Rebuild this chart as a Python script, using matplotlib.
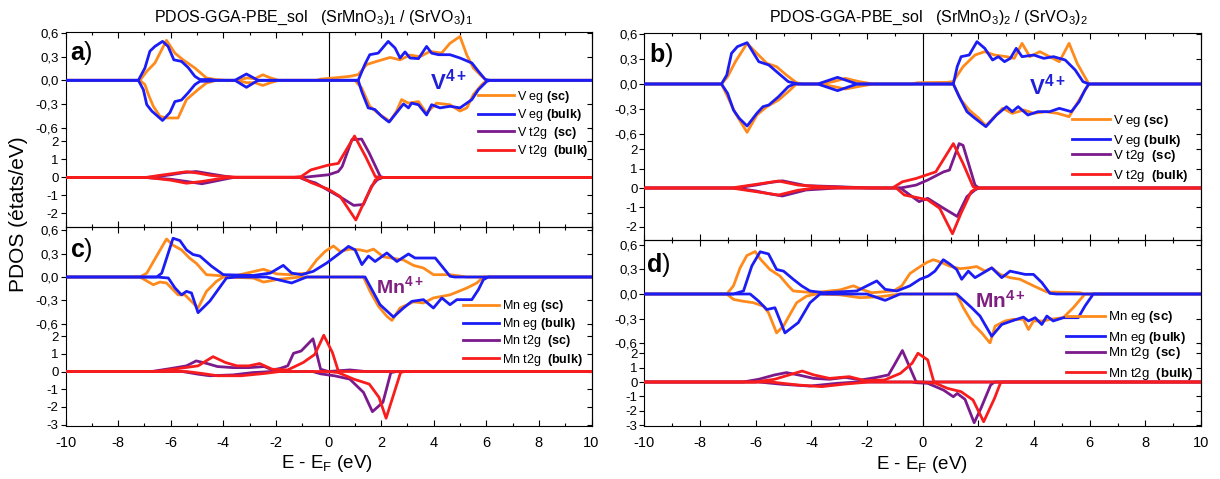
import matplotlib
matplotlib.use('Agg')
import numpy as np
import matplotlib.pyplot as plt

plt.rcParams['font.family'] = 'Liberation Sans'
plt.rcParams['mathtext.fontset'] = 'custom'
plt.rcParams['mathtext.rm'] = 'Liberation Sans'
plt.rcParams['mathtext.it'] = 'Liberation Sans:italic'
plt.rcParams['mathtext.bf'] = 'Liberation Sans:bold'

# ---- PDOS data (E - E_F in eV, states/eV); up = spin up, dn = spin down ----
# (SrMnO3)1/(SrVO3)1 : V eg
a_eg_sc_up_x = [-7.17, -6.91, -6.60, -6.16, -5.84, -5.53, -5.08, -4.64, -4.26, -3.9, -3.5, -3.1, -2.8, -2.5, -2.2, -1.9,
                -0.45, -0.3, 0.2, 0.8, 1.13, 1.45, 1.83, 2.34, 2.72, 3.10, 3.48, 3.86, 4.30, 4.62, 5.0, 5.26, 5.51, 5.83, 6.02]
a_eg_sc_up_y = [0, 0.114, 0.22, 0.507, 0.345, 0.26, 0.156, 0.03, 0.008, 0, 0, 0.03, 0.02, 0.07, 0.03, 0,
                0, 0.015, 0.03, 0.05, 0.072, 0.2, 0.24, 0.29, 0.26, 0.32, 0.30, 0.367, 0.345, 0.47, 0.556, 0.32, 0.156, 0.05, 0]
a_eg_sc_dn_x = [-7.17, -6.98, -6.85, -6.66, -6.41, -6.16, -5.72, -5.40, -4.96, -4.64, -4.26, -3.5, -3.1, -2.8, -2.5, -2.2, -1.9,
                1.0, 1.26, 1.57, 1.95, 2.34, 2.59, 2.78, 3.04, 3.42, 3.73, 4.11, 4.62, 5.0, 5.26, 5.51, 5.83, 6.02]
a_eg_sc_dn_y = [0, -0.055, -0.18, -0.33, -0.457, -0.478, -0.478, -0.245, -0.118, -0.034, 0, 0, -0.03, -0.03, -0.065, -0.03, 0,
                0, -0.097, -0.33, -0.435, -0.52, -0.39, -0.245, -0.29, -0.27, -0.415, -0.29, -0.31, -0.39, -0.35, -0.18, -0.055, 0]
a_eg_bulk_up_x = [-7.23, -6.98, -6.79, -6.60, -6.31, -6.10, -5.88, -5.59, -5.34, -5.08, -4.89, -4.5, -4.3, -3.56, -3.12, -2.68,
                  1.13, 1.38, 1.57, 1.89, 2.27, 2.53, 2.72, 2.91, 3.10, 3.42, 3.73, 3.92, 4.18, 4.62, 5.0, 5.45, 5.70, 5.96, 6.15]
a_eg_bulk_up_y = [0, 0.156, 0.37, 0.43, 0.494, 0.43, 0.26, 0.24, 0.163, 0.05, 0.01, 0.01, 0, 0, 0.08, 0,
                  0, 0.2, 0.325, 0.345, 0.494, 0.41, 0.283, 0.36, 0.283, 0.275, 0.43, 0.345, 0.325, 0.325, 0.283, 0.22, 0.114, 0.01, 0]
a_eg_bulk_dn_x = [-7.23, -7.04, -6.91, -6.72, -6.31, -6.03, -5.84, -5.59, -5.34, -5.08, -4.89, -4.5, -4.3, -3.56, -3.12, -2.68,
                  1.13, 1.26, 1.51, 1.76, 2.02, 2.30, 2.59, 2.85, 3.04, 3.16, 3.42, 3.73, 3.92, 4.24, 4.62, 5.0, 5.45, 5.70, 6.02, 6.15]
a_eg_bulk_dn_y = [0, -0.119, -0.309, -0.39, -0.51, -0.41, -0.27, -0.25, -0.16, -0.055, -0.013, -0.01, 0, 0, -0.089, 0,
                  0, -0.14, -0.35, -0.37, -0.457, -0.53, -0.41, -0.30, -0.35, -0.29, -0.31, -0.44, -0.31, -0.35, -0.33, -0.35, -0.245, -0.118, -0.013, 0]

# (SrMnO3)1/(SrVO3)1 : V t2g
a_t2g_sc_up_x = [-7.0, -6.5, -6.0, -5.5, -5.03, -4.5, -4.0, -3.6, -0.96, -0.67, 0, 0.37, 0.52, 0.89, 1.26, 1.55, 1.97, 2.1]
a_t2g_sc_up_y = [0, 0.05, 0.15, 0.27, 0.33, 0.2, 0.08, 0, 0, 0.05, 0.15, 0.33, 0.61, 2.1, 2.13, 1.35, 0.05, 0]
a_t2g_sc_dn_x = [-7.0, -6.0, -5.5, -4.81, -4.3, -3.8, -3.6, -1.1, -0.89, -0.5, 0, 0.52, 0.96, 1.33, 1.63, 1.85, 2.07]
a_t2g_sc_dn_y = [0, -0.1, -0.2, -0.35, -0.2, -0.05, 0, 0, -0.13, -0.3, -0.72, -1.15, -1.55, -1.5, -0.5, -0.13, 0]
a_t2g_bulk_up_x = [-6.9, -6.5, -6.0, -5.40, -5.0, -4.5, -4.0, -3.5, -3.0, -1.3, -1.04, -0.67, 0, 0.37, 0.99, 1.41, 1.78, 2.0]
a_t2g_bulk_up_y = [0, 0.1, 0.2, 0.32, 0.25, 0.12, 0.05, 0.02, 0.02, 0.02, 0.05, 0.42, 0.69, 0.78, 2.3, 1.16, 0.05, 0]
a_t2g_bulk_dn_x = [-6.9, -6.0, -5.40, -4.8, -4.2, -3.77, -1.04, -0.67, 0, 0.44, 1.04, 1.41, 1.78, 2.0]
a_t2g_bulk_dn_y = [0, -0.15, -0.32, -0.22, -0.08, 0, 0, -0.28, -0.66, -1.05, -2.36, -1.2, -0.13, 0]

# (SrMnO3)1/(SrVO3)1 : Mn eg
c_eg_sc_up_x = [-7.17, -6.91, -6.66, -6.16, -5.91, -5.59, -5.27, -5.02, -4.64, -4.13, -3.62, -3.11, -2.47, -1.97, -1.46, -0.83,
                -0.45, -0.13, 0.19, 0.44, 0.82, 1.20, 1.46, 1.71, 2.09, 2.47, 2.85, 3.23, 3.61, 3.99, 4.62, 5.26]
c_eg_sc_up_y = [0, 0.05, 0.197, 0.49, 0.41, 0.35, 0.24, 0.175, 0.03, 0.017, 0.01, 0.05, 0.1, 0.04, 0.03, 0.05,
                0.22, 0.33, 0.40, 0.33, 0.36, 0.35, 0.33, 0.36, 0.26, 0.24, 0.22, 0.15, 0.116, 0.03, 0.03, 0]
c_eg_sc_dn_x = [-7.17, -6.66, -6.41, -6.16, -5.72, -5.46, -4.96, -4.64, -4.26, -4.0, -2.86, -2.47, -1.97, -1.08,
                1.33, 1.58, 1.90, 2.22, 2.41, 2.72, 3.23, 3.61, 3.99, 4.62, 5.26, 5.64, 5.89]
c_eg_sc_dn_y = [0, -0.1, -0.065, -0.077, -0.23, -0.23, -0.4, -0.185, -0.056, 0, -0.013, -0.065, -0.034, 0,
                0, -0.185, -0.378, -0.507, -0.56, -0.40, -0.32, -0.335, -0.27, -0.23, -0.142, -0.077, 0]
c_eg_bulk_up_x = [-6.53, -6.34, -5.91, -5.65, -5.40, -5.15, -4.89, -4.45, -4.0, -2.86, -2.22, -1.72, -1.40, -1.02, -0.58, -0.07,
                  0.44, 0.76, 1.01, 1.27, 1.52, 1.77, 2.22, 2.60, 3.04, 3.29, 3.55, 4.06, 4.31, 4.62, 4.8]
c_eg_bulk_up_y = [0, 0.05, 0.5, 0.47, 0.35, 0.29, 0.27, 0.14, 0.03, 0.02, 0.05, 0.15, 0.05, 0.03, 0.073, 0.18,
                  0.31, 0.395, 0.35, 0.16, 0.27, 0.2, 0.31, 0.2, 0.297, 0.245, 0.245, 0.245, 0.14, 0.01, 0]
c_eg_bulk_dn_x = [-6.53, -6.09, -5.84, -5.59, -5.40, -5.21, -4.96, -4.51, -3.88, -3.5, -2.35, -1.40, -0.83,
                  1.39, 1.96, 2.47, 2.85, 3.17, 3.61, 3.99, 4.31, 4.62, 4.88, 5.45, 5.70, 5.89, 6.08]
c_eg_bulk_dn_y = [0, -0.013, -0.14, -0.23, -0.185, -0.206, -0.46, -0.31, -0.013, 0, 0, -0.077, 0,
                  0, -0.357, -0.516, -0.40, -0.314, -0.292, -0.40, -0.27, -0.357, -0.292, -0.292, -0.163, -0.034, 0]

# (SrMnO3)1/(SrVO3)1 : Mn t2g
c_t2g_sc_up_x = [-6.73, -5.99, -5.40, -5.03, -4.66, -4.22, -3.62, -3.03, -2.44, -2.14, -1.85, -1.55, -1.33, -1.04, -0.59, -0.30, 0, 0.81, 1.41]
c_t2g_sc_up_y = [0, 0.17, 0.32, 0.6, 0.47, 0.28, 0.22, 0.22, 0.28, 0.09, 0.17, 0.32, 1.03, 1.16, 1.85, 0.13, 0, 0.09, 0]
c_t2g_sc_dn_x = [-5.55, -4.96, -4.51, -3.62, -2.88, -2.14, -0.6, -0.30, 0.22, 0.81, 1.33, 1.67, 2.07, 2.37, 2.59]
c_t2g_sc_dn_y = [0, -0.15, -0.24, -0.19, -0.06, 0, 0, -0.13, -0.24, -0.43, -1.18, -2.27, -1.74, -0.06, 0]
c_t2g_bulk_up_x = [-6.58, -5.70, -4.96, -4.39, -3.92, -3.48, -3.03, -2.62, -2.14, -1.55, -0.96, -0.52, -0.18, 0.15, 0.37, 0.52]
c_t2g_bulk_up_y = [0, 0.17, 0.32, 0.84, 0.51, 0.32, 0.32, 0.45, 0.13, 0.09, 0.51, 0.97, 2.05, 1.07, 0.04, 0]
c_t2g_bulk_dn_x = [-5.40, -4.81, -4.22, -3.33, -2.44, -1.85, 0, 0.37, 0.96, 1.55, 1.92, 2.19, 2.74, 2.88]
c_t2g_bulk_dn_y = [0, -0.11, -0.24, -0.24, -0.11, 0, 0, -0.06, -0.43, -0.71, -1.46, -2.64, -0.06, 0]

# (SrMnO3)2/(SrVO3)2 : V eg
b_eg_sc_up_x = [-7.23, -7.01, -6.73, -6.31, -5.96, -5.60, -5.25, -4.90, -4.54, -4.3, -3.70, -3.2, -2.78, -2.3, -1.79,
                -0.38, -0.2, 0.89, 1.10, 1.45, 1.88, 2.23, 2.58, 3.01, 3.29, 3.57, 3.85, 4.21, 4.56, 4.91, 5.26, 5.55, 5.97]
b_eg_sc_up_y = [0, 0.088, 0.268, 0.488, 0.368, 0.248, 0.208, 0.108, 0.016, 0, 0, 0.03, 0.068, 0.03, 0,
                0, 0.015, 0.02, 0.03, 0.208, 0.348, 0.388, 0.348, 0.328, 0.308, 0.488, 0.328, 0.388, 0.328, 0.268, 0.488, 0.248, 0]
b_eg_sc_dn_x = [-7.23, -7.01, -6.73, -6.31, -5.96, -5.60, -5.18, -4.83, -4.54, -3.70, -3.2, -2.78, -2.3, -1.79,
                1.10, 1.38, 1.67, 2.02, 2.27, 2.58, 2.87, 3.22, 3.64, 3.99, 4.42, 4.84, 5.26, 5.62, 5.97]
b_eg_sc_dn_y = [0, -0.152, -0.352, -0.58, -0.372, -0.272, -0.192, -0.092, 0, 0, -0.03, -0.06, -0.03, 0,
                0, -0.192, -0.312, -0.412, -0.5, -0.392, -0.292, -0.352, -0.312, -0.352, -0.332, -0.352, -0.392, -0.192, 0]
b_eg_bulk_up_x = [-7.23, -7.04, -6.87, -6.66, -6.31, -5.89, -5.53, -5.18, -4.83, -4.47, -3.77, -3.06, -2.36,
                  1.10, 1.24, 1.38, 1.67, 1.95, 2.23, 2.51, 2.72, 2.94, 3.15, 3.36, 3.57, 3.99, 4.35, 4.70, 5.12, 5.48, 5.76, 5.97]
b_eg_bulk_up_y = [0, 0.108, 0.368, 0.448, 0.496, 0.268, 0.228, 0.128, 0.028, 0, 0, 0.08, 0,
                  0, 0.208, 0.328, 0.348, 0.508, 0.428, 0.288, 0.328, 0.268, 0.308, 0.428, 0.328, 0.348, 0.308, 0.328, 0.288, 0.168, 0.028, 0]
b_eg_bulk_dn_x = [-7.23, -7.01, -6.80, -6.59, -6.31, -5.96, -5.74, -5.53, -5.18, -4.83, -4.62, -3.77, -3.06, -2.36,
                  1.10, 1.31, 1.59, 1.88, 2.27, 2.65, 3.01, 3.22, 3.43, 3.78, 4.14, 4.56, 4.91, 5.34, 5.62, 5.83, 5.97]
b_eg_bulk_dn_y = [0, -0.112, -0.312, -0.412, -0.504, -0.352, -0.272, -0.252, -0.152, -0.032, 0, 0, -0.08, 0,
                  0, -0.152, -0.332, -0.412, -0.512, -0.372, -0.272, -0.332, -0.272, -0.372, -0.332, -0.332, -0.292, -0.332, -0.212, -0.072, 0]

# (SrMnO3)2/(SrVO3)2 : V t2g
b_t2g_sc_up_x = [-6.73, -6.0, -5.5, -5.04, -4.19, -3.06, -1.93, -0.80, -0.24, 0.18, 0.75, 0.96, 1.31, 1.45, 1.88, 2.02]
b_t2g_sc_up_y = [0, 0.15, 0.28, 0.37, 0.12, 0.07, 0, 0, 0.15, 0.41, 0.83, 0.92, 2.28, 2.19, 0.15, 0]
b_t2g_sc_dn_x = [-6.73, -6.0, -5.5, -5.04, -4.19, -3.06, -0.80, -0.38, -0.13, 0.18, 0.75, 1.24, 1.59, 1.88, 2.02]
b_t2g_sc_dn_y = [0, -0.15, -0.3, -0.41, -0.1, 0, 0, -0.44, -0.70, -0.53, -1.04, -1.46, -0.44, -0.1, 0]
b_t2g_bulk_up_x = [-6.87, -6.17, -5.18, -4.47, -3.63, -2.5, -1.09, -0.73, -0.24, 0.47, 1.10, 1.45, 1.81, 1.95]
b_t2g_bulk_up_y = [0, 0.15, 0.36, 0.15, 0.07, 0.02, 0, 0.32, 0.49, 0.83, 2.28, 1.26, 0.07, 0]
b_t2g_bulk_dn_x = [-6.87, -6.17, -5.18, -4.5, -3.9, -0.95, -0.66, -0.24, 0.18, 0.61, 1.07, 1.38, 1.74, 1.95]
b_t2g_bulk_dn_y = [0, -0.15, -0.36, -0.12, 0, 0, -0.36, -0.48, -0.61, -1.04, -2.35, -1.29, -0.19, 0]

# (SrMnO3)2/(SrVO3)2 : Mn eg
d_eg_sc_up_x = [-7.04, -6.80, -6.56, -6.32, -6.02, -5.84, -5.49, -5.13, -4.83, -4.65, -3.93, -2.97, -2.49, -2.19, -1.83, -1.05,
                -0.75, -0.46, -0.16, 0.14, 0.38, 0.68, 0.98, 1.34, 1.64, 1.94, 2.24, 2.48, 2.78, 3.14, 3.50, 3.98, 4.46, 5.65, 5.8]
d_eg_sc_up_y = [0, 0.1, 0.32, 0.47, 0.52, 0.43, 0.30, 0.22, 0.1, 0.037, 0.016, 0.05, 0.1, 0.057, 0.016, 0.037,
                0.1, 0.25, 0.32, 0.385, 0.42, 0.385, 0.34, 0.31, 0.32, 0.336, 0.28, 0.32, 0.24, 0.2, 0.18, 0.1, 0.025, 0.016, 0]
d_eg_sc_dn_x = [-7.04, -6.80, -6.50, -6.08, -5.72, -5.54, -5.25, -5.0, -4.77, -4.53, -4.17, -3.81, -2.97, -2.25, -1.53, -0.81,
                1.22, 1.46, 1.82, 2.12, 2.42, 2.60, 2.96, 3.26, 3.62, 3.80, 3.98, 4.34, 4.57, 5.05, 5.41, 5.83]
d_eg_sc_dn_y = [0, -0.066, -0.086, -0.107, -0.15, -0.23, -0.476, -0.39, -0.25, -0.107, -0.025, 0, -0.01, -0.045, -0.033, 0,
                0, -0.168, -0.373, -0.476, -0.6, -0.394, -0.33, -0.31, -0.31, -0.435, -0.33, -0.33, -0.31, -0.29, -0.168, 0]
d_eg_bulk_up_x = [-6.80, -6.44, -6.14, -5.84, -5.54, -5.25, -5.0, -4.65, -4.35, -4.05, -3.57, -2.37, -1.65, -1.35, -0.93, -0.46,
                  -0.10, 0.20, 0.44, 0.74, 0.98, 1.22, 1.40, 1.64, 1.88, 2.48, 2.84, 3.14, 3.68, 3.98, 4.28, 4.57, 4.81]
d_eg_bulk_up_y = [0, 0.037, 0.344, 0.517, 0.49, 0.30, 0.28, 0.18, 0.1, 0.037, 0.016, 0.037, 0.16, 0.057, 0.037, 0.1,
                  0.18, 0.22, 0.28, 0.42, 0.365, 0.30, 0.18, 0.28, 0.2, 0.32, 0.2, 0.28, 0.24, 0.24, 0.14, 0.008, 0]
d_eg_bulk_dn_x = [-6.80, -6.20, -5.90, -5.60, -5.31, -4.95, -4.47, -4.05, -3.69, -2.01, -1.35, -0.81,
                  1.22, 1.76, 2.06, 2.48, 2.84, 3.20, 3.62, 3.80, 4.04, 4.28, 4.46, 4.69, 5.05, 5.59, 5.83, 6.13]
d_eg_bulk_dn_y = [0, 0, -0.086, -0.19, -0.168, -0.476, -0.35, -0.107, 0, 0, -0.078, 0,
                  0, -0.168, -0.27, -0.517, -0.373, -0.33, -0.283, -0.33, -0.29, -0.373, -0.27, -0.33, -0.29, -0.29, -0.148, 0]

# (SrMnO3)2/(SrVO3)2 : Mn t2g
d_t2g_sc_up_x = [-6.45, -5.89, -5.32, -4.90, -4.47, -3.91, -3.35, -2.78, -2.22, -1.65, -1.23, -1.02, -0.73, -0.45, -0.24, -0.1]
d_t2g_sc_up_y = [0, 0.19, 0.49, 0.65, 0.49, 0.25, 0.19, 0.32, 0.14, 0.32, 0.49, 1.18, 2.18, 0.95, 0.02, 0]
d_t2g_sc_dn_x = [-5.89, -5.04, -4.05, -3.06, -2.36, -0.4, -0.24, 0.18, 0.75, 1.10, 1.24, 1.52, 1.85, 2.09, 2.44, 2.58]
d_t2g_sc_dn_y = [0, -0.16, -0.28, -0.09, 0, 0, -0.05, -0.09, -0.56, -1.02, -0.79, -1.2, -2.82, -1.83, -0.21, 0]
d_t2g_bulk_up_x = [-6.03, -5.32, -4.33, -3.91, -3.35, -2.64, -2.07, -1.37, -0.80, -0.38, -0.17, 0.18, 0.40, 0.47]
d_t2g_bulk_up_y = [0, 0.19, 0.76, 0.49, 0.25, 0.37, 0.09, 0.14, 0.6, 1.3, 1.99, 1.53, 0.02, 0]
d_t2g_bulk_dn_x = [-5.46, -4.47, -3.63, -2.78, -1.93, 0, 0.47, 0.89, 1.38, 1.81, 2.19, 2.58, 2.79, 2.87]
d_t2g_bulk_dn_y = [0, -0.21, -0.32, -0.14, 0, 0, -0.09, -0.44, -0.67, -1.25, -2.75, -1.13, -0.09, 0]

eg_ticks = [-0.6, -0.3, 0.0, 0.3, 0.6]
t2g_ticks_top = [-2, -1, 0, 1, 2]
t2g_ticks_bot = [-3, -2, -1, 0, 1, 2]
x_ticks = list(range(-10, 11, 2))

col_eg_sc = '#ff8a1c'
col_eg_bulk = '#1c1cf5'
col_t2g_sc = '#7a1a8c'
col_t2g_bulk = '#f81c1c'

W, H = 1220, 479
fig = plt.figure(figsize=(W / 100, H / 100), dpi=100)


def rect(x0, x1, ytop, ybot):
    return [x0 / W, 1 - ybot / H, (x1 - x0) / W, (ybot - ytop) / H]


def padded(x, y):
    # zero DOS outside the listed energies
    return [-10] + list(x) + [10], [0] + list(y) + [0]


def style_axes(ax, ylim, yticks, eg, xlabels):
    ax.set_facecolor('none')
    ax.set_xlim(-10, 10)
    ax.set_ylim(*ylim)
    ax.set_xticks(x_ticks)
    ax.set_xticks(range(-9, 10, 2), minor=True)
    ax.set_yticks(yticks)
    if eg:
        ax.set_yticklabels([('%.1f' % v).replace('.', ',') for v in yticks])
    else:
        ax.set_yticklabels([str(v) for v in yticks])
    ax.set_xticklabels([str(v) for v in x_ticks])
    for s in ax.spines.values():
        s.set_linewidth(0.8)
    ax.spines['bottom'].set_visible(not eg)
    ax.spines['top'].set_visible(eg)
    ax.tick_params(axis='x', which='both', direction='in', top=eg, bottom=not eg,
                   labelbottom=xlabels, labelsize=10.5, pad=7, width=0.8)
    ax.tick_params(axis='x', which='major', length=4.5)
    ax.tick_params(axis='x', which='minor', length=2.5)
    ax.tick_params(axis='y', direction='out', length=3.5, width=0.8, pad=1.5, labelsize=9.5)
    sec = ax.secondary_yaxis('right')
    sec.set_yticks(yticks)
    sec.tick_params(direction='in', length=3.5, width=0.8, labelright=False)
    sec.spines['right'].set_linewidth(0.8)
    ax.axvline(0, color='black', lw=0.8, zorder=1)


def draw_pair(ax, sc_up, sc_dn, bulk_up, bulk_dn, c_sc, c_bulk):
    l1, = ax.plot(*padded(*sc_up), color=c_sc, lw=2.0, zorder=2)
    ax.plot(*padded(*sc_dn), color=c_sc, lw=2.0, zorder=2)
    l2, = ax.plot(*padded(*bulk_up), color=c_bulk, lw=2.0, zorder=3)
    ax.plot(*padded(*bulk_dn), color=c_bulk, lw=2.0, zorder=3)
    return l1, l2


def add_legend(ax, handles, labels, x, y, fs, spacing, hlen):
    ax.legend(handles, labels, loc='center left', bbox_to_anchor=(x / W, 1 - y / H),
              bbox_transform=fig.transFigure, frameon=False, fontsize=fs, borderpad=0,
              borderaxespad=0, handlelength=hlen, handletextpad=0.25, labelspacing=spacing)


left_x = (65.5, 591.5)
left_rows = [32, 129, 227, 325, 426]
right_x = (644.4, 1201)
right_rows = [33, 137, 240, 344, 426]

# ---- left column: (SrMnO3)1/(SrVO3)1 ----
ax_a = fig.add_axes(rect(*left_x, left_rows[0], left_rows[1]))
style_axes(ax_a, (-0.618, 0.613), eg_ticks, True, False)
h = draw_pair(ax_a, (a_eg_sc_up_x, a_eg_sc_up_y), (a_eg_sc_dn_x, a_eg_sc_dn_y),
              (a_eg_bulk_up_x, a_eg_bulk_up_y), (a_eg_bulk_dn_x, a_eg_bulk_dn_y), col_eg_sc, col_eg_bulk)
add_legend(ax_a, h, ['V eg $\\mathbf{(sc)}$', 'V eg $\\mathbf{(bulk)}$'], 478, 106, 9, 0.22, 2.9)

ax_a2 = fig.add_axes(rect(*left_x, left_rows[1], left_rows[2]))
style_axes(ax_a2, (-2.75, 2.69), t2g_ticks_top, False, False)
h = draw_pair(ax_a2, (a_t2g_sc_up_x, a_t2g_sc_up_y), (a_t2g_sc_dn_x, a_t2g_sc_dn_y),
              (a_t2g_bulk_up_x, a_t2g_bulk_up_y), (a_t2g_bulk_dn_x, a_t2g_bulk_dn_y), col_t2g_sc, col_t2g_bulk)
add_legend(ax_a2, h, ['V t2g  $\\mathbf{(sc)}$', 'V t2g  $\\mathbf{(bulk)}$'], 478, 142, 9, 0.22, 2.9)

ax_c = fig.add_axes(rect(*left_x, left_rows[2], left_rows[3]))
style_axes(ax_c, (-0.619, 0.645), eg_ticks, True, False)
h = draw_pair(ax_c, (c_eg_sc_up_x, c_eg_sc_up_y), (c_eg_sc_dn_x, c_eg_sc_dn_y),
              (c_eg_bulk_up_x, c_eg_bulk_up_y), (c_eg_bulk_dn_x, c_eg_bulk_dn_y), col_eg_sc, col_eg_bulk)
add_legend(ax_c, h, ['Mn eg $\\mathbf{(sc)}$', 'Mn eg $\\mathbf{(bulk)}$'], 463, 315, 9, 0.18, 2.9)

ax_c2 = fig.add_axes(rect(*left_x, left_rows[3], left_rows[4]))
style_axes(ax_c2, (-3.08, 2.63), t2g_ticks_bot, False, True)
h = draw_pair(ax_c2, (c_t2g_sc_up_x, c_t2g_sc_up_y), (c_t2g_sc_dn_x, c_t2g_sc_dn_y),
              (c_t2g_bulk_up_x, c_t2g_bulk_up_y), (c_t2g_bulk_dn_x, c_t2g_bulk_dn_y), col_t2g_sc, col_t2g_bulk)
add_legend(ax_c2, h, ['Mn t2g  $\\mathbf{(sc)}$', 'Mn t2g  $\\mathbf{(bulk)}$'], 463, 350.5, 9, 0.2, 2.9)

# ---- right column: (SrMnO3)2/(SrVO3)2 ----
ax_b = fig.add_axes(rect(*right_x, right_rows[0], right_rows[1]))
style_axes(ax_b, (-0.636, 0.612), eg_ticks, True, False)
h = draw_pair(ax_b, (b_eg_sc_up_x, b_eg_sc_up_y), (b_eg_sc_dn_x, b_eg_sc_dn_y),
              (b_eg_bulk_up_x, b_eg_bulk_up_y), (b_eg_bulk_dn_x, b_eg_bulk_dn_y), col_eg_sc, col_eg_bulk)
add_legend(ax_b, h, ['V eg $\\mathbf{(sc)}$', 'V eg $\\mathbf{(bulk)}$'], 1072, 131, 9.5, 0.32, 2.85)

ax_b2 = fig.add_axes(rect(*right_x, right_rows[1], right_rows[2]))
style_axes(ax_b2, (-2.67, 2.62), t2g_ticks_top, False, False)
h = draw_pair(ax_b2, (b_t2g_sc_up_x, b_t2g_sc_up_y), (b_t2g_sc_dn_x, b_t2g_sc_dn_y),
              (b_t2g_bulk_up_x, b_t2g_bulk_up_y), (b_t2g_bulk_dn_x, b_t2g_bulk_dn_y), col_t2g_sc, col_t2g_bulk)
add_legend(ax_b2, h, ['V t2g  $\\mathbf{(sc)}$', 'V t2g  $\\mathbf{(bulk)}$'], 1072, 166, 9.5, 0.32, 2.85)

ax_d = fig.add_axes(rect(*right_x, right_rows[2], right_rows[3]))
style_axes(ax_d, (-0.612, 0.661), eg_ticks, True, False)
h = draw_pair(ax_d, (d_eg_sc_up_x, d_eg_sc_up_y), (d_eg_sc_dn_x, d_eg_sc_dn_y),
              (d_eg_bulk_up_x, d_eg_bulk_up_y), (d_eg_bulk_dn_x, d_eg_bulk_dn_y), col_eg_sc, col_eg_bulk)
add_legend(ax_d, h, ['Mn eg $\\mathbf{(sc)}$', 'Mn eg $\\mathbf{(bulk)}$'], 1066, 327.5, 9.5, 0.32, 2.95)

ax_d2 = fig.add_axes(rect(*right_x, right_rows[3], right_rows[4]))
style_axes(ax_d2, (-3.045, 2.63), t2g_ticks_bot, False, True)
h = draw_pair(ax_d2, (d_t2g_sc_up_x, d_t2g_sc_up_y), (d_t2g_sc_dn_x, d_t2g_sc_dn_y),
              (d_t2g_bulk_up_x, d_t2g_bulk_up_y), (d_t2g_bulk_dn_x, d_t2g_bulk_dn_y), col_t2g_sc, col_t2g_bulk)
add_legend(ax_d2, h, ['Mn t2g  $\\mathbf{(sc)}$', 'Mn t2g  $\\mathbf{(bulk)}$'], 1066, 363.5, 9.5, 0.32, 2.95)

# ---- titles, axis labels and annotations ----
def ftext(x, y, s, **kw):
    fig.text(x / W, 1 - y / H, s, **kw)


ftext(314, 21.5, 'PDOS-GGA-PBE_sol   (SrMnO$_3$)$_1$ / (SrVO$_3$)$_1$', ha='center', va='baseline', fontsize=11.5)
ftext(929, 21.5, 'PDOS-GGA-PBE_sol   (SrMnO$_3$)$_2$ / (SrVO$_3$)$_2$', ha='center', va='baseline', fontsize=11.5)
ftext(19, 214, 'PDOS (états/eV)', rotation=90, ha='center', va='center', fontsize=15)
ftext(327, 468, 'E - E$_\\mathregular{F}$ (eV)', ha='center', va='baseline', fontsize=13.5)
ftext(922, 469, 'E - E$_\\mathregular{F}$ (eV)', ha='center', va='baseline', fontsize=13.5)

for lab, x, y in [('a', 70, 60), ('c', 70, 256.7), ('b', 649, 61.7), ('d', 645.5, 271.7)]:
    ftext(x, y, '$\\mathbf{%s}$)' % lab, ha='left', va='baseline', fontsize=18)

ftext(430, 89.7, '$\\mathbf{V^{4+}}$', color='#2020d8', ha='left', va='baseline', fontsize=16)
ftext(1029, 95, '$\\mathbf{V^{4+}}$', color='#2020d8', ha='left', va='baseline', fontsize=16)
ftext(376.5, 293.3, '$\\mathbf{Mn^{4+}}$', color='#7f1f7f', ha='left', va='baseline', fontsize=14)
ftext(975, 307.7, '$\\mathbf{Mn^{4+}}$', color='#7f1f7f', ha='left', va='baseline', fontsize=15)

fig.savefig('out.png', dpi=100)
